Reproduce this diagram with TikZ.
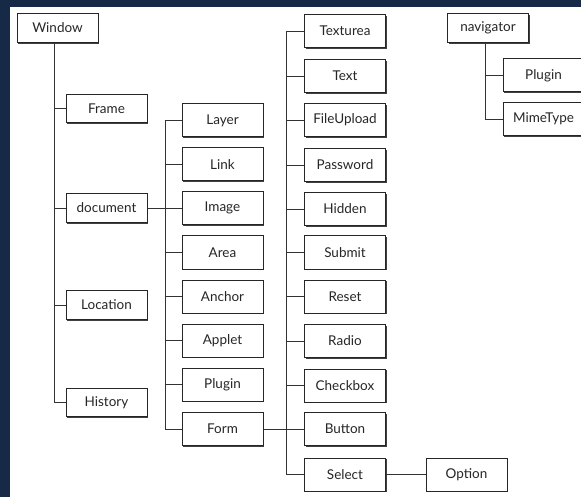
\documentclass[tikz,border=0pt]{standalone}
\usepackage{fontspec}
\setmainfont{Lato}
\usetikzlibrary{shadows}
\definecolor{navy}{RGB}{22,42,72}
\begin{document}
\begin{tikzpicture}[x=1pt,y=-1pt,
  box/.style={draw=black!85,line width=1pt,fill=white,minimum width=81pt,
    minimum height=33pt,inner sep=0pt,font=\fontsize{13.5}{15}\selectfont,
    text=black!85,
    drop shadow={shadow xshift=1.3pt,shadow yshift=-1.3pt,opacity=1,fill=black!75}},
  short/.style={box,minimum height=28.5pt},
  conn/.style={draw=black!80,line width=0.9pt}]
\useasboundingbox (0,0) rectangle (581,497);
\begin{scope}
\clip (0,0) rectangle (581,497);
\fill[navy] (0,0) rectangle (581,497);
\fill[white] (10,7) rectangle (590,505);
\coordinate (t1) at (54,0);
\coordinate (t2) at (165,0);
\coordinate (t3) at (286,0);
\coordinate (t4) at (485,0);
% column 1
\node[short] (window) at (57.5,28) {Window};
\node[short] (frame) at (106.5,108.5) {Frame};
\node[short] (document) at (106.5,208) {document};
\node[short] (location) at (106.5,305) {Location};
\node[short] (history) at (106.5,402.5) {History};
% column 2
\node[box] (layer) at (222.5,120.5) {Layer};
\node[box] (link) at (222.5,164.5) {Link};
\node[box] (image) at (222.5,208) {Image};
\node[box] (area) at (222.5,252.5) {Area};
\node[box] (anchor) at (222.5,296.5) {Anchor};
\node[box] (applet) at (222.5,340.5) {Applet};
\node[box] (plugin) at (222.5,384.5) {Plugin};
\node[box] (form) at (222.5,429) {Form};
% column 3
\node[box] (texturea) at (345,31) {Texturea};
\node[box] (text) at (345,76) {Text};
\node[box] (fileupload) at (345,120) {FileUpload};
\node[box] (password) at (345,165) {Password};
\node[box] (hidden) at (345,209) {Hidden};
\node[box] (submit) at (345,252.5) {Submit};
\node[box] (reset) at (345,296.5) {Reset};
\node[box] (radio) at (345,341) {Radio};
\node[box] (checkbox) at (345,385.5) {Checkbox};
\node[box] (button) at (345,429) {Button};
\node[box] (select) at (345,474.5) {Select};
\node[box] (option) at (466.5,474.5) {Option};
% navigator
\node[short] (navigator) at (488,28) {navigator};
\node[box] (navplugin) at (543.5,75.5) {Plugin};
\node[box] (mimetype) at (543.5,119) {MimeType};
% connectors column 1
\draw[conn] (window.south -| t1) |- (history.west);
\foreach \n in {frame,document,location}
  \draw[conn] (t1 |- \n.west) -- (\n.west);
\draw[conn] (document.east) -- (image.west);
% column 2
\draw[conn] (layer.west) -| (t2 |- form.west) -- (form.west);
\foreach \n in {link,area,anchor,applet,plugin}
  \draw[conn] (t2 |- \n.west) -- (\n.west);
% column 3
\draw[conn] (texturea.west) -| (t3 |- select.west) -- (select.west);
\foreach \n in {text,fileupload,password,hidden,submit,reset,radio,checkbox}
  \draw[conn] (t3 |- \n.west) -- (\n.west);
\draw[conn] (form.east) -- (button.west);
\draw[conn] (select.east) -- (option.west);
% navigator
\draw[conn] (navigator.south -| t4) |- (mimetype.west);
\draw[conn] (t4 |- navplugin.west) -- (navplugin.west);
\end{scope}
\end{tikzpicture}
\end{document}
